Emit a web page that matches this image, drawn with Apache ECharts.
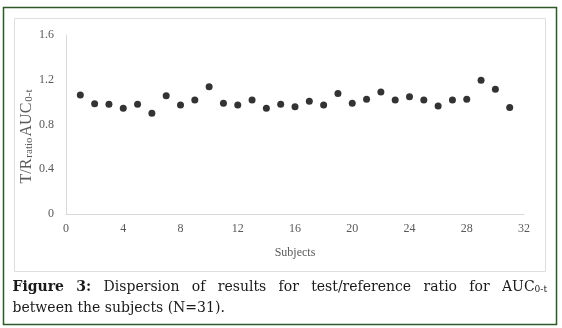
<!DOCTYPE html>
<html><head><meta charset="utf-8">
<script src="https://cdn.jsdelivr.net/npm/echarts@6/dist/echarts.min.js"></script>
<style>html,body{margin:0;padding:0;background:#fff}#c{width:562px;height:328px}</style>
</head><body><div id="c"></div>
<script>
var subjects = [1,2,3,4,5,6,7,8,9,10,11,12,13,14,15,16,17,18,19,20,21,22,23,24,25,26,27,28,29,30,31];
var ratios = [1.063,0.986,0.980,0.945,0.980,0.900,1.057,0.974,1.019,1.138,0.989,0.974,1.019,0.945,0.980,0.959,1.007,0.974,1.078,0.989,1.025,1.090,1.019,1.048,1.019,0.965,1.019,1.025,1.195,1.114,0.953];
var xTicks = [0,4,8,12,16,20,24,28,32];
var yTicks = [0,0.4,0.8,1.2,1.6];
var captionWords = ["Figure","3:","Dispersion","of","results","for","test/reference","ratio","for"];
var captionBoldCount = 2;
var captionLine2 = "between the subjects (N=31).";

var font = "'DejaVu Serif','Liberation Serif',serif";
var tfont = "'Liberation Serif','DejaVu Serif',serif";
var capSize = 14;
var chart = echarts.init(document.getElementById('c'), null, {renderer:'canvas'});
var graphics = [
  {type:'rect', shape:{x:3.5,y:7.5,width:553,height:317}, style:{fill:'none',stroke:'#2f5a28',lineWidth:1.5}, silent:true},
  {type:'rect', shape:{x:14.5,y:18.5,width:531,height:253}, style:{fill:'none',stroke:'#dedede',lineWidth:1}, silent:true},
  {type:'text', x:27, y:136, rotation:Math.PI/2, style:{text:'{a|T/R}{s|ratio}{a|AUC}{s|0-t}', align:'center', verticalAlign:'middle',
    rich:{a:{fontSize:16,fontFamily:tfont,fill:'#595959'},s:{fontSize:11,fontFamily:tfont,fill:'#595959',padding:[5,1,0,1]}}}}
];
// justify first caption line between x0 and x1
var ctx = document.createElement('canvas').getContext('2d');
function mw(t, f){ctx.font=f;return ctx.measureText(t).width;}
var x0 = 12.5, x1 = 547;
var widths = captionWords.map(function(w,i){return mw(w,(i<captionBoldCount?'bold ':'')+capSize+'px '+font);});
var lastW = mw('AUC', capSize+'px '+font) + mw('0-t', '9px '+font);
var total = widths.reduce(function(a,b){return a+b;},0) + lastW;
var gap = (x1 - x0 - total) / captionWords.length;
var cx = x0;
captionWords.forEach(function(w,i){
  graphics.push({type:'text', left:cx, top:280, style:{text:w, font:(i<captionBoldCount?'bold ':'')+capSize+'px '+font, fill:'#1a1a1a'}});
  cx += widths[i] + gap;
});
graphics.push({type:'text', left:cx, top:280, style:{text:'{a|AUC}{s|0-t}', font:capSize+'px '+font, fill:'#1a1a1a',
  rich:{a:{fontSize:capSize,fontFamily:font,fill:'#1a1a1a'}, s:{fontSize:9,fontFamily:font,fill:'#1a1a1a',verticalAlign:'bottom',padding:[6,0,0,0]}}}});
graphics.push({type:'text', left:x0, top:301, style:{text:captionLine2, font:capSize+'px '+font, fill:'#1a1a1a'}});

chart.setOption({
  animation:false,
  grid:{left:66,right:38,top:35,bottom:114},
  xAxis:{type:'value',min:0,max:32,interval:4,
    axisLine:{lineStyle:{color:'#d9d9d9'}},axisTick:{show:false},splitLine:{show:false},
    axisLabel:{color:'#595959',fontFamily:tfont,fontSize:12,margin:9,
      formatter:function(v){return xTicks.indexOf(v)>=0?String(v):'';}},
    name:'Subjects',nameLocation:'middle',nameGap:33,
    nameTextStyle:{color:'#595959',fontFamily:tfont,fontSize:12}},
  yAxis:{type:'value',min:0,max:1.6,interval:0.4,
    axisLine:{show:true,lineStyle:{color:'#d9d9d9'}},axisTick:{show:false},splitLine:{show:false},
    axisLabel:{color:'#595959',fontFamily:tfont,fontSize:12,margin:12,
      formatter:function(v){var t=yTicks.filter(function(a){return Math.abs(a-v)<1e-6;});return t.length?String(t[0]):'';}}},
  series:[{type:'scatter',data:subjects.map(function(s,i){return [s,ratios[i]];}),
    symbol:'circle',symbolSize:7,itemStyle:{color:'#000'}}],
  graphic:graphics
});
</script></body></html>
